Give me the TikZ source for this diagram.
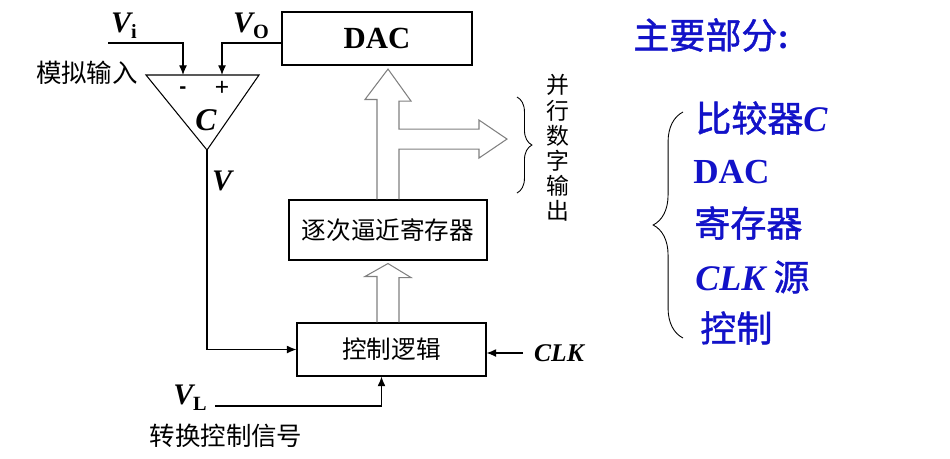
\documentclass[tikz,border=0pt]{standalone}
\usepackage{fontspec}
\setmainfont{Liberation Serif}
\setsansfont{Liberation Sans}
\newfontfamily\cjk{Noto Sans CJK SC}
\newfontfamily\cjkbold[FakeBold=1.2]{Noto Sans CJK SC}
\usetikzlibrary{arrows.meta, calc, decorations.pathreplacing}
\definecolor{myblue}{RGB}{18,18,200}
\definecolor{mygray}{RGB}{128,128,128}
\newcommand{\sig}[2]{{\bfseries\itshape #1}\raisebox{-0.45ex}{\fontsize{11.5}{12}\selectfont\bfseries\upshape #2}}

\begin{document}
\begin{tikzpicture}[x=0.02cm, y=-0.02cm]
	\tikzset{box/.style={draw, line width=0.6pt, minimum width=3.78cm, minimum height=1.06cm, font=\cjk\fontsize{14}{16}\selectfont}}
	\tikzset{wire/.style={-{Latex[length=5.5pt,width=4.5pt]}, line width=0.6pt}}
	\tikzset{bus/.style={draw=mygray, line width=0.6pt, line join=miter}}
	\tikzset{sym/.style={font=\bfseries\itshape\fontsize{17}{20}\selectfont, inner sep=0pt}}
	\tikzset{cjklabel/.style={font=\cjk\fontsize{14.5}{17}\selectfont, inner sep=0pt}}
	\tikzset{partlabel/.style={anchor=west, inner sep=0pt, text=myblue, font=\cjkbold\fontsize{20.5}{24}\selectfont}}
	
	\useasboundingbox (0,0) rectangle (950,458);
	
	% blocks
	\node(dac) at (377,38.5) [box, line width=1.2pt, minimum width=3.8cm, font=\bfseries\fontsize{17.5}{20}\selectfont] {DAC};
	\node(reg) at (388,230) [box, minimum width=3.96cm, minimum height=1.2cm] {逐次逼近寄存器};
	\node(ctrl) at (391.5,349.5) [box] {控制逻辑};
	
	% comparator
	\coordinate(cmp_l) at (146,75);
	\coordinate(cmp_r) at (259,75);
	\coordinate(cmp_out) at (207,150);
	\coordinate(cmp_in1) at (183,75);
	\coordinate(cmp_in2) at (222,75);
	\draw[line width=0.6pt] (cmp_l) -- (cmp_r) -- (cmp_out) -- cycle;
	\node(cmp) at (206,120) [sym, font=\bfseries\itshape\fontsize{18}{20}\selectfont] {C};
	\node(minus) at (183,90) [font=\sffamily\bfseries\fontsize{12}{14}\selectfont] {-};
	\node(plus) at (222,88) [font=\sffamily\fontsize{14}{16}\selectfont] {+};
	
	% labels
	\node(vi) at (124,26) [sym] {\sig{V}{i}};
	\node(vo) at (251,26) [sym] {\sig{V}{O}};
	\node(v) at (222,181) [sym] {V};
	\node(vl) at (190,398) [sym] {\sig{V}{L}};
	\node(clk) at (559,353) [sym, font=\bfseries\itshape\fontsize{14.5}{17}\selectfont] {CLK};
	\node(ain) at (87,73) [cjklabel] {模拟输入};
	\node(conv) at (226,436) [cjklabel] {转换控制信号};
	\node(pout) at (558,148) [cjklabel, align=center, font=\cjk\fontsize{13}{14.3}\selectfont] {并\\行\\数\\字\\输\\出};
	
	% signals
	\coordinate(vi_in) at (108,43);
	\coordinate(vl_in) at (215,406);
	\coordinate(clk_in) at (523,353);
	\draw[wire] (vi_in) -| (cmp_in1);
	\draw[wire] ($(dac.west)+(0,4.5)$) -| (cmp_in2);
	\draw[wire] (cmp_out) |- (ctrl.west);
	\draw[wire] (clk_in) -- (clk_in -| ctrl.east);
	\draw[wire] (vl_in) -| ($(ctrl.south)+(-10,0)$);
	
	% hollow bus arrows
	\draw[bus] ($(reg.north)+(-11,0)$) -- ++(0,-100) -- ++(-12,0) -- ($(reg.north|-dac.south)+(0,3)$) -- ++(23,32) -- ++(-12,0) -- ++(0,28) -- ++(80,0) -- ++(0,-9) -- ++(28,19) -- ++(-28,19) -- ++(0,-9) -- ++(-80,0) -- ($(reg.north)+(11,0)$);
	\draw[bus] ($(reg.south|-ctrl.north)+(-11,0)$) -- ++(0,-46) -- ++(-12,0) -- ($(reg.south)+(0,3)$) -- ++(23,14) -- ++(-12,0) -- ($(reg.south|-ctrl.north)+(11,0)$);
	
	% braces
	\draw[decorate, decoration={brace, amplitude=8.5pt}, line width=0.5pt] (517,97) -- (517,193);
	\draw[decorate, decoration={brace, amplitude=17pt}, line width=0.5pt] (683,338) -- (683,112);
	
	% main parts
	\node(title) at (633,35) [partlabel] {主要部分{\rmfamily\bfseries :}};
	\node(p_cmp) at (695,118) [partlabel] {比较器{\rmfamily\bfseries\itshape C}};
	\node(p_dac) at (693,172) [partlabel, font=\rmfamily\bfseries\fontsize{20}{24}\selectfont] {DAC};
	\node(p_reg) at (694,223) [partlabel] {寄存器};
	\node(p_clk) at (695,277) [partlabel] {{\rmfamily\bfseries\itshape CLK} 源};
	\node(p_ctl) at (700,328) [partlabel] {控制};
\end{tikzpicture}
\end{document}
